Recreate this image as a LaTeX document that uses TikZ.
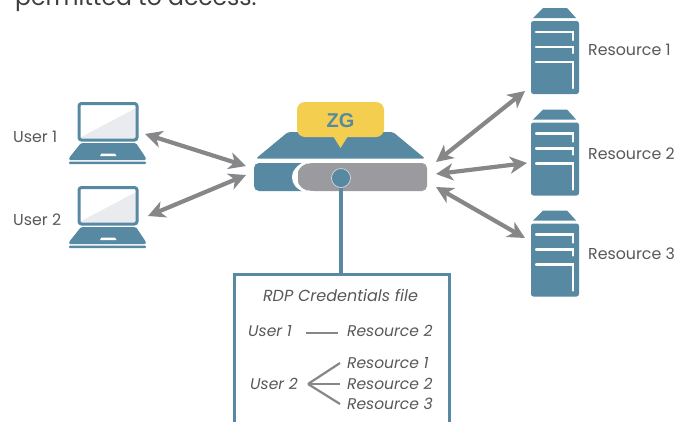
\documentclass[tikz,border=0pt]{standalone}
\usepackage{fontspec}
\setmainfont{Poppins}
\newfontfamily\zgfont{Liberation Sans}
\usetikzlibrary{arrows.meta}
\definecolor{teal}{HTML}{5789A3}
\definecolor{ygold}{HTML}{F4CE4F}
\definecolor{gry}{HTML}{9B9A9F}
\definecolor{arr}{HTML}{87878A}
\definecolor{txt}{HTML}{58585A}
\definecolor{scr}{HTML}{E9EBEE}
\tikzset{
 x=1pt,y=-1pt,
 lbl/.style={text=txt,font=\fontsize{15.8}{18}\selectfont,inner sep=0pt},
 ital/.style={text=txt,font=\fontsize{15.5}{18}\selectfont\itshape,inner sep=0pt},
 twoway/.style={draw=arr,line width=4.2pt,{Stealth[length=17pt,width=17pt,inset=5pt]}-{Stealth[length=17pt,width=17pt,inset=5pt]}},
 thinline/.style={draw=arr,line width=2.2pt},
 whiteline/.style={draw=white,line width=2.2pt},
 pics/laptop/.style={code={
   \fill[scr] (2,2) rectangle (59,39);
   \fill[white] (2,37) -- (2,2) -- (59,2) -- (59,7) -- cycle;
   \draw[teal,line width=3pt,rounded corners=2.5pt] (2,2.5) rectangle (60,39);
   \fill[teal,rounded corners=1.5pt] (4,42) -- (59,42) -- (69,57) -- (69,59) -- (-8,59) -- (-8,57) -- cycle;
   \fill[white] (23,55) -- (24.5,52.5) -- (38,52.5) -- (39.5,55) -- cycle;
   \fill[teal,rounded corners=1pt] (-8,60.5) rectangle (69,63);
 }},
 pics/rack/.style={code={
   \fill[teal] (12,0) -- (36,0) -- (45,10) -- (2,10) -- cycle;
   \fill[teal,rounded corners=2.5pt] (0,13) rectangle (48,86);
   \draw[whiteline,line cap=round] (5,24) -- (42,24) -- (42,32);
   \draw[whiteline,line cap=round] (5,39) -- (42,39) -- (42,45);
   \draw[whiteline,line cap=round] (5,54) -- (42,54) -- (42,80);
 }}
}
\begin{document}
\begin{tikzpicture}
\clip (0,0) rectangle (680,421);
\useasboundingbox (0,0) rectangle (680,421);
\fill[white] (0,0) rectangle (680,421);
\node[anchor=base west,inner sep=0pt,text=txt!70!black,font=\fontsize{23.5}{26}\selectfont] (head) at (15,5) {permitted to access.};
% users
\pic at (77,101) {laptop};
\pic at (77,185) {laptop};
\node[lbl,anchor=west] (u1) at (13,137) {User 1};
\node[lbl,anchor=west] (u2) at (13,220) {User 2};
% resources
\pic at (531,8) {rack};
\pic at (531,109.5) {rack};
\pic at (531,210.5) {rack};
\node[lbl,anchor=west] (r1) at (588,50) {Resource 1};
\node[lbl,anchor=west] (r2) at (588,154) {Resource 2};
\node[lbl,anchor=west] (r3) at (588,254) {Resource 3};
% credentials box
\node[draw=teal,line width=3pt,fill=white,minimum width=215pt,minimum height=160pt,anchor=north west,inner sep=0pt] (box) at (233,273) {};
% gateway
\fill[teal,rounded corners=2pt] (256,158.5) -- (288,132) -- (393,132) -- (425,158.5) -- cycle;
\fill[teal,rounded corners=5pt] (254,163) rectangle (310,191);
\fill[white] (306,161) .. controls (296,165) and (292,172) .. (292,177) .. controls (292,184) and (296,189) .. (306,193) -- cycle;
\fill[gry,rounded corners=5pt] (309,163) .. controls (301,166) and (298,171) .. (298,177) .. controls (298,183) and (301,188) .. (309,191) -- (427,191) -- (427,163) -- cycle;
\node[circle,fill=teal,draw=white!70!gry,line width=0.6pt,minimum size=19pt,inner sep=0pt] (hub) at (341,178) {};
\draw[teal,line width=3.5pt] (hub) -- (hub |- box.north);
% bubble
\fill[ygold,rounded corners=8pt] (297,102) rectangle (384,137);
\fill[ygold] (333,136) -- (348,136) -- (340.5,148) -- cycle;
\node[text=teal,inner sep=0pt,font=\fontsize{20}{24}\zgfont\bfseries] (zg) at (340.5,120.5) {ZG};
% arrows
\coordinate (a1l) at (145,134); \coordinate (a1r) at (246,166);
\coordinate (a2l) at (148,216); \coordinate (a2r) at (246,175);
\coordinate (b1l) at (436,162); \coordinate (b1r) at (525,91);
\coordinate (b2l) at (436,174); \coordinate (b2r) at (527,163);
\coordinate (b3l) at (436,187); \coordinate (b3r) at (525,238);
\draw[twoway] (a1l) -- (a1r);
\draw[twoway] (a2l) -- (a2r);
\draw[twoway] (b1l) -- (b1r);
\draw[twoway] (b2l) -- (b2r);
\draw[twoway] (b3l) -- (b3r);
% box text
\node[ital,font=\fontsize{16}{18}\selectfont\itshape] (title) at (340.5,295) {RDP Credentials file};
\node[ital,anchor=west] (bu1) at (248,331) {User 1};
\node[ital,anchor=west] (br0) at (347,331) {Resource 2};
\draw[thinline] (306,333) -- (338,333);
\node[ital,anchor=west] (bu2) at (250,384) {User 2};
\node[ital,anchor=west] (br1) at (347,363) {Resource 1};
\node[ital,anchor=west] (br2) at (347,384) {Resource 2};
\node[ital,anchor=west] (br3) at (347,404) {Resource 3};
\coordinate (fork) at (308,384);
\draw[thinline] (fork) -- (340,363);
\draw[thinline] (fork) -- (340,384);
\draw[thinline] (fork) -- (340,404);
\end{tikzpicture}
\end{document}
